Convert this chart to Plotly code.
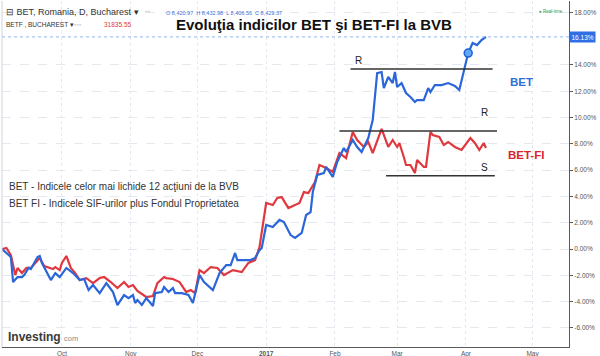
import plotly.graph_objects as go

# ---------------- data (percent change since start) ----------------
bet_dates = [
    "2016-09-04","2016-09-08","2016-09-09","2016-09-11","2016-09-13","2016-09-14","2016-09-16","2016-09-17","2016-09-20","2016-09-21",
    "2016-09-22","2016-09-26","2016-09-28","2016-09-30","2016-10-03","2016-10-06","2016-10-09","2016-10-11","2016-10-13","2016-10-15",
    "2016-10-18","2016-10-21","2016-10-24","2016-10-26","2016-10-29","2016-10-31","2016-11-02","2016-11-03","2016-11-04","2016-11-06",
    "2016-11-08","2016-11-11","2016-11-12","2016-11-15","2016-11-16","2016-11-18","2016-11-20","2016-11-21","2016-11-24","2016-11-27",
    "2016-11-29","2016-12-02","2016-12-04","2016-12-08","2016-12-11","2016-12-14","2016-12-16","2016-12-18","2016-12-19","2016-12-22",
    "2016-12-25","2016-12-27","2016-12-29","2016-12-30","2017-01-01","2017-01-04","2017-01-07","2017-01-09","2017-01-12","2017-01-14",
    "2017-01-17","2017-01-19","2017-01-21","2017-01-22","2017-01-24","2017-01-27","2017-01-28","2017-01-31","2017-02-02","2017-02-05",
    "2017-02-06","2017-02-09","2017-02-11","2017-02-13","2017-02-16","2017-02-18","2017-02-20","2017-02-22","2017-02-23","2017-02-25",
    "2017-02-27","2017-02-28","2017-03-01","2017-03-03","2017-03-05","2017-03-07","2017-03-09","2017-03-10","2017-03-13","2017-03-15",
    "2017-03-16","2017-03-18","2017-03-21","2017-03-24","2017-03-27","2017-03-29","2017-03-31","2017-04-02","2017-04-04","2017-04-06",
    "2017-04-08","2017-04-10",
]
bet_values = [
    0.00, -0.61, -2.51, -2.13, -2.13, -1.98, -1.44, -1.52, -0.61, -0.53,
    -1.06, -2.36, -1.83, -2.13, -1.44, -1.83, -2.36, -2.28, -3.12, -2.74,
    -3.35, -2.59, -3.27, -4.26, -3.50, -3.73, -3.50, -4.11, -3.88, -4.26,
    -3.73, -4.33, -3.35, -3.27, -2.89, -3.27, -2.97, -3.35, -3.35, -3.50,
    -4.11, -1.98, -2.51, -3.12, -1.83, -1.22, -1.22, -0.30, -0.84, -0.84,
    -0.84, -0.68, -0.08, 0.08, 1.83, 1.67, 2.21, 2.05, 1.06, 0.84,
    1.22, 2.59, 2.81, 4.33, 5.63, 5.78, 6.24, 5.48, 6.62, 7.68,
    7.38, 8.29, 7.76, 7.38, 8.44, 9.81, 13.38, 13.46, 12.24, 13.08,
    12.62, 13.46, 12.32, 12.62, 11.86, 11.56, 11.18, 11.33, 11.33, 12.24,
    11.94, 12.47, 12.47, 12.62, 12.40, 12.09, 13.61, 14.90, 15.67, 15.51,
    15.89, 16.13,
]

betfi_dates = [
    "2016-09-04","2016-09-06","2016-09-08","2016-09-10","2016-09-11","2016-09-13","2016-09-15","2016-09-17","2016-09-19","2016-09-21",
    "2016-09-23","2016-09-27","2016-09-28","2016-09-30","2016-10-01","2016-10-03","2016-10-05","2016-10-07","2016-10-09","2016-10-12",
    "2016-10-15","2016-10-18","2016-10-20","2016-10-23","2016-10-26","2016-10-29","2016-10-31","2016-11-02","2016-11-04","2016-11-06",
    "2016-11-08","2016-11-11","2016-11-13","2016-11-16","2016-11-17","2016-11-20","2016-11-23","2016-11-26","2016-11-28","2016-11-30",
    "2016-12-02","2016-12-04","2016-12-07","2016-12-10","2016-12-13","2016-12-17","2016-12-21","2016-12-24","2016-12-27","2016-12-29",
    "2017-01-01","2017-01-04","2017-01-06","2017-01-08","2017-01-11","2017-01-14","2017-01-16","2017-01-18","2017-01-20","2017-01-23",
    "2017-01-25","2017-01-28","2017-01-31","2017-02-03","2017-02-06","2017-02-09","2017-02-11","2017-02-14","2017-02-16","2017-02-18",
    "2017-02-22","2017-02-25","2017-02-27","2017-03-01","2017-03-02","2017-03-04","2017-03-05","2017-03-07","2017-03-09","2017-03-10",
    "2017-03-13","2017-03-14","2017-03-16","2017-03-17","2017-03-20","2017-03-22","2017-03-24","2017-03-27","2017-03-30","2017-04-03",
    "2017-04-05","2017-04-07","2017-04-09","2017-04-10",
]
betfi_values = [
    0.00, 0.08, -0.46, -1.98, -1.44, -1.83, -1.44, -1.44, -1.06, -0.68,
    -1.29, -1.52, -1.37, -1.60, -1.06, -0.53, -1.44, -1.83, -2.36, -2.21,
    -2.59, -2.21, -2.13, -2.51, -2.97, -2.51, -2.89, -2.74, -3.19, -3.42,
    -3.65, -3.57, -2.59, -2.13, -2.21, -2.28, -2.51, -3.27, -3.12, -3.35,
    -1.60, -1.83, -1.37, -1.44, -1.98, -1.60, -1.75, -1.06, -0.84, 0.15,
    3.50, 3.35, 3.88, 3.95, 3.12, 3.35, 3.50, 4.33, 4.26, 5.10,
    6.39, 6.16, 5.86, 7.30, 6.92, 8.90, 8.29, 7.76, 8.14, 7.30,
    9.13, 7.76, 8.29, 7.76, 8.06, 7.00, 6.39, 6.39, 5.78, 6.77,
    6.24, 6.24, 8.90, 8.67, 8.52, 7.91, 8.14, 7.76, 7.53, 8.44,
    8.06, 7.53, 8.06, 7.68,
]

# support / resistance levels
level_names = ["R BET", "R BET-FI", "S BET-FI"]
level_values = [13.69, 8.97, 5.57]
level_starts = ["2017-02-08", "2017-02-03", "2017-02-24"]
level_ends = ["2017-04-13", "2017-04-15", "2017-04-14"]

marker_date = ["2017-04-02"]
marker_value = [14.90]
last_value = 16.13

x_tick_dates = ["2016-10-01", "2016-11-01", "2016-12-01", "2017-01-01",
                "2017-02-01", "2017-03-01", "2017-04-01", "2017-05-01"]
x_tick_labels = ["Oct", "Nov", "Dec", "<b>2017</b>", "Feb", "Mar", "Apr", "May"]
y_tick_values = [-6, -4, -2, 0, 2, 4, 6, 8, 10, 12, 14, 18]
y_tick_labels = [f"{v:.2f}%" for v in y_tick_values]

# ---------------- figure ----------------
W, H = 600, 356
ML, MR, MT, MB = 2, 31, 1, 9
BLUE = "#2a66d9"
RED = "#e0383e"
FONT = "Liberation Sans, Arial, sans-serif"


def P(px, py):
    return (px - ML) / (W - ML - MR), (H - MB - py) / (H - MT - MB)


fig = go.Figure()

fig.add_trace(go.Scatter(x=betfi_dates, y=betfi_values, mode="lines",
                         line=dict(color=RED, width=2.2), name="BET-FI",
                         hoverinfo="skip"))
fig.add_trace(go.Scatter(x=bet_dates, y=bet_values, mode="lines",
                         line=dict(color=BLUE, width=2.2), name="BET",
                         hoverinfo="skip"))

for v, s, e in zip(level_values, level_starts, level_ends):
    fig.add_trace(go.Scatter(x=[s, e], y=[v, v], mode="lines",
                             line=dict(color="#333333", width=1.5),
                             hoverinfo="skip"))

fig.add_trace(go.Scatter(x=marker_date, y=marker_value, mode="markers",
                         marker=dict(size=8, color="#5fa8f5",
                                     line=dict(color="#1f62d6", width=1.5)),
                         hoverinfo="skip"))

# price line at last value
fig.add_shape(type="line", xref="paper", yref="y", x0=0, x1=1,
              y0=last_value, y1=last_value,
              line=dict(color="#8fb4ee", width=1, dash="dot"))
# left light border
fig.add_shape(type="line", xref="paper", yref="paper", x0=0, x1=0, y0=0, y1=1,
              line=dict(color="#cfd3da", width=1))

annotations = []


def txt(px, py, text, size, color="#333333", anchor="left", bold=False, family=FONT):
    x, y = P(px, py)
    annotations.append(dict(
        x=x, y=y, xref="paper", yref="paper", xanchor=anchor, yanchor="middle",
        text=f"<b>{text}</b>" if bold else text, showarrow=False,
        font=dict(size=size, color=color, family=family)))


txt(4, 12, "⊟ BET, Romania, D, Bucharest ▾", 9)
txt(143, 12, "▪▪", 8, color="#d8d8d8")
txt(164, 13, "O 8,420.97  H 8,432.98  L 8,406.56  C 8,429.37", 5.5, color="#3a6fd8")
txt(4, 24, "BETF , BUCHAREST ▾", 6.5)
txt(72, 24, "▪▪▪", 7, color="#d8d8d8")
txt(102, 24, "31835.55", 6.5, color="#e0383e")
txt(537, 12, "● Real-time", 4.5, color="#2e9a45")

txt(314, 24, "Evoluţia indicilor BET şi BET-FI la BVB", 15, color="#111111",
    anchor="center", bold=True)

txt(7, 186, "BET - Indicele celor mai lichide 12 acţiuni de la BVB", 10)
txt(7, 203, "BET FI - Indicele SIF-urilor plus Fondul Proprietatea", 10)

txt(508, 82, "BET", 11.5, color="#2e70d8", bold=True)
txt(506, 155, "BET-FI", 11.5, color="#d9232e", bold=True)
txt(358, 60, "R", 10, color="#222222", anchor="center")
txt(484, 113, "R", 10, color="#222222", anchor="center")
txt(484, 167, "S", 10, color="#222222", anchor="center")

# Investing.com logo
txt(6, 337, "Investing", 12, color="#3a3a3a", bold=True)
txt(62, 338, "com", 7.5, color="#8a8a8a")

# last price label box
annotations.append(dict(
    x=1, y=last_value, xref="paper", yref="y", xanchor="left", yanchor="middle",
    xshift=0, text="16.13%", showarrow=False, bgcolor="#2f6fe3",
    font=dict(size=6.5, color="white", family=FONT), borderpad=1.5))

fig.update_layout(
    width=W, height=H,
    margin=dict(l=ML, r=MR, t=MT, b=MB, pad=0),
    paper_bgcolor="white", plot_bgcolor="white",
    showlegend=False,
    annotations=annotations,
    xaxis=dict(
        type="date",
        range=["2016-09-04", "2017-05-17 10:00"],
        tickvals=x_tick_dates, ticktext=x_tick_labels,
        tickfont=dict(size=6.5, color="#555555", family=FONT),
        showline=True, linecolor="#5a5a5a", linewidth=1,
        showgrid=True, gridcolor="#e4e8ef", griddash="dot", gridwidth=1,
        ticks="", zeroline=False, automargin=False,
    ),
    yaxis=dict(
        side="right",
        range=[-7.45, 18.86],
        tickvals=y_tick_values, ticktext=y_tick_labels,
        tickfont=dict(size=6.5, color="#555555", family=FONT),
        showline=True, linecolor="#5a5a5a", linewidth=1,
        ticks="outside", ticklen=3, tickcolor="#5a5a5a",
        showgrid=True, gridcolor="#e4e8ef", griddash="dash", gridwidth=1,
        zeroline=False, automargin=False,
    ),
)

fig.write_html("out.html", config={"displayModeBar": False},
               post_script="document.body.style.margin='0';document.body.style.padding='0';")
